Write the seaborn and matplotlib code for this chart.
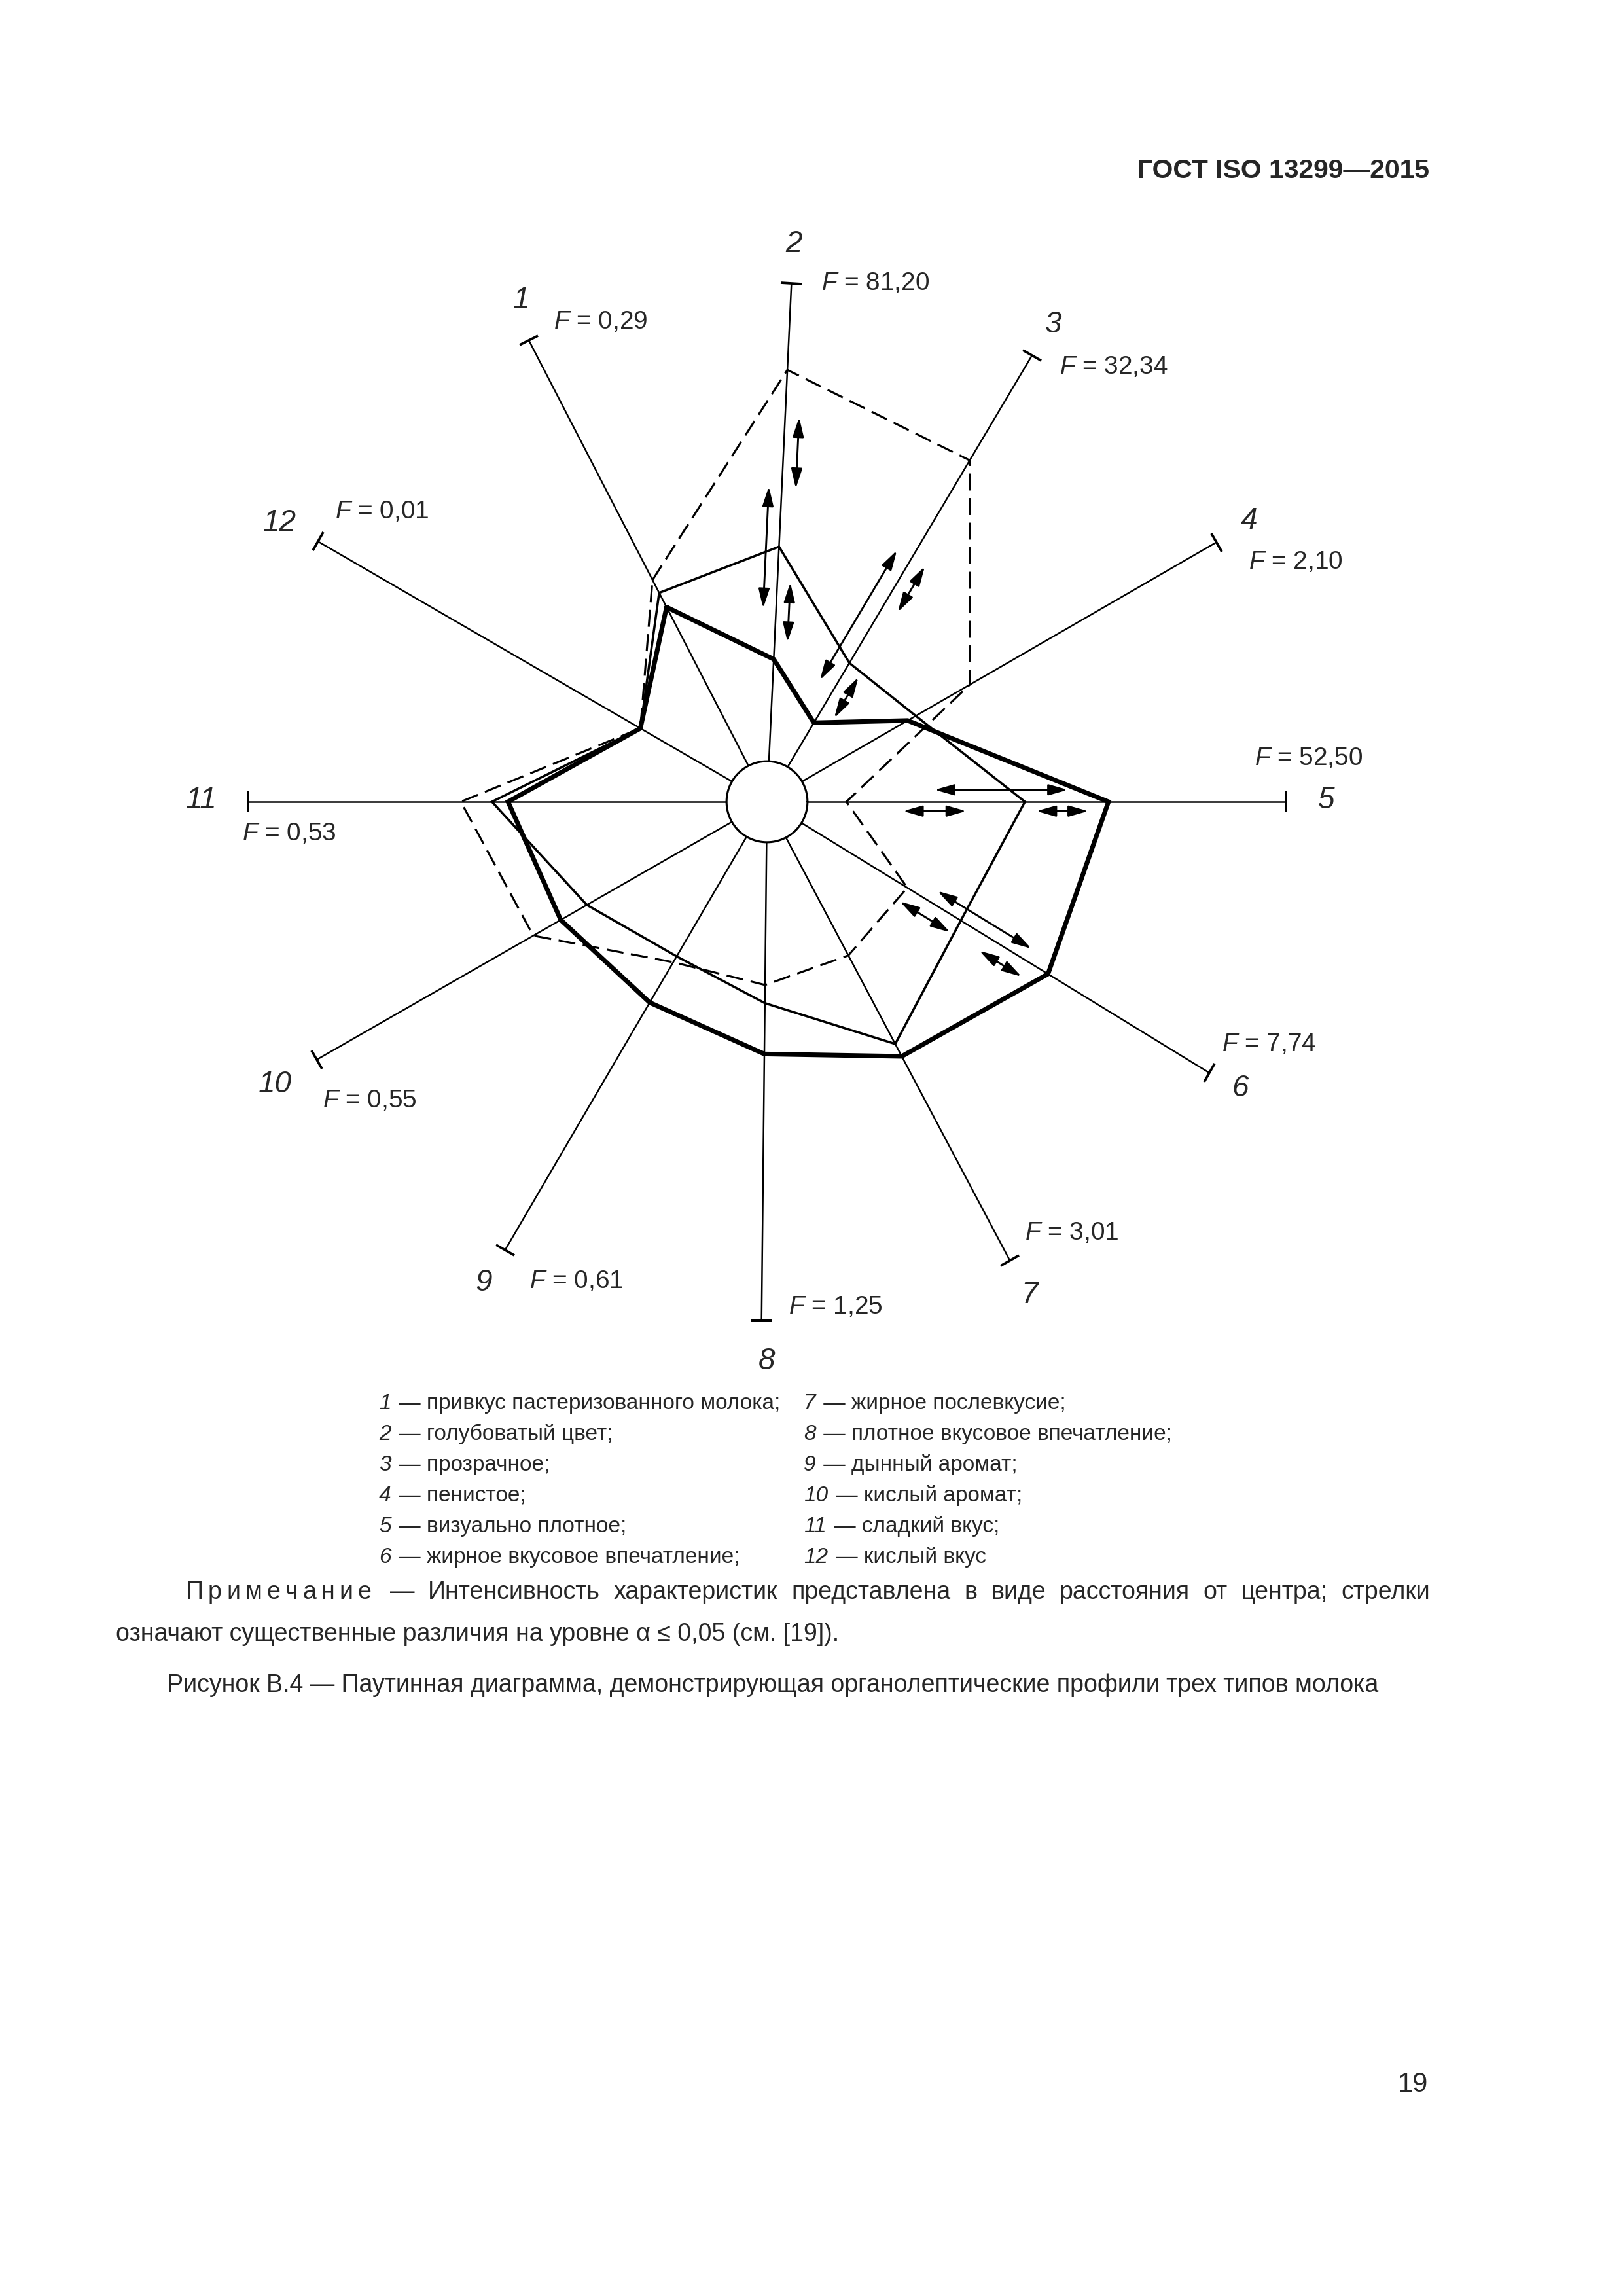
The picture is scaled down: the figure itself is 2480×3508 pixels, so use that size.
"""
Паутинная диаграмма (рисунок В.4, ГОСТ ISO 13299-2015):
органолептические профили трех типов молока по 12 характеристикам.
"""

import numpy as np
import pandas as pd
import matplotlib
matplotlib.use("Agg")
import matplotlib.pyplot as plt
import seaborn as sns
from matplotlib.markers import MarkerStyle
from matplotlib.transforms import Affine2D

W, H = 2480, 3508
DPI = 300

# --- данные (расстояние от центра, конец оси = 10) ---
axis_ids = list(range(1, 13))
f_values = ["0,29", "81,20", "32,34", "2,10", "52,50", "7,74",
            "3,01", "1,25", "0,61", "0,55", "0,53", "0,01"]
profile_dashed = [4.81, 8.33, 7.65, 4.51, 1.53, 3.17, 3.35, 3.53, 3.58, 5.19, 5.90, 2.82]
profile_thin = [4.53, 4.92, 3.11, 3.31, 4.97, 4.38, 5.28, 3.88, 3.45, 4.00, 5.30, 2.82]
profile_thick = [4.22, 2.75, 1.77, 3.13, 6.58, 6.35, 5.55, 4.86, 4.48, 4.58, 4.99, 2.82]

# существенные различия: ось, от, до, смещение в сторону от оси
arrow_axis = [2, 2, 2, 3, 3, 3, 5, 5, 5, 6, 6, 6]
arrow_from = [7.43, 6.07, 4.24, 5.44, 5.45, 2.96, 3.23, 2.62, 5.19, 3.70, 3.19, 4.99]
arrow_to = [6.06, 3.72, 3.09, 2.54, 4.43, 2.05, 5.80, 3.84, 6.19, 5.82, 4.32, 5.94]
arrow_side = [-0.27, 0.25, -0.25, 0.32, -0.30, -0.29, 0.23, -0.18, -0.18, 0.25, -0.30, -0.31]

legend_items = [
    "привкус пастеризованного молока;", "голубоватый цвет;", "прозрачное;",
    "пенистое;", "визуально плотное;", "жирное вкусовое впечатление;",
    "жирное послевкусие;", "плотное вкусовое впечатление;", "дынный аромат;",
    "кислый аромат;", "сладкий вкус;", "кислый вкус",
]

note_head = "Примечание"
note_line1 = "— Интенсивность характеристик представлена в виде расстояния от центра; стрелки"
note_line2 = "означают существенные различия на уровне α ≤ 0,05 (см. [19])."
caption = ("Рисунок В.4 — Паутинная диаграмма, демонстрирующая органолептические "
           "профили трех типов молока")

# --- раскладка ---
axis_angle_deg = [117.3, 87.3, 59.3, 30.0, 0.0, -31.5, -62.1, -90.6, -120.3, -150.2, 180.0, 149.9]
R_END = 10.0
HUB = 0.78
CENTER_PX = (1172, 1225)
PX_PER_UNIT = 79.3
R_LIM = 14.0

num_pos = [(797, 459), (1213, 373), (1610, 496), (1908, 796), (2027, 1223), (1895, 1663),
           (1573, 1979), (1172, 2080), (739, 1960), (420, 1657), (308, 1223), (427, 799)]
f_pos = [(846, 492), (1255, 433), (1619, 561), (1908, 859), (1917, 1159), (1867, 1596),
         (1566, 1884), (1205, 1997), (809, 1958), (493, 1682), (370, 1274), (512, 782)]

PROFILE_STYLES = {
    "dashed": dict(lw=0.75, ls=(0, (8.3, 3.7))),
    "thin": dict(lw=0.85, ls="-"),
    "thick": dict(lw=1.7, ls="-"),
}


def fig_xy(x, y):
    return x / W, 1 - y / H


def to_polar(p):
    return np.arctan2(p[1], p[0]), np.hypot(p[0], p[1])


def place_justified(fig, words, x_left, x_right, y_base, size):
    """Расставляет слова между x_left и x_right с равными промежутками."""
    renderer = fig.canvas.get_renderer()
    texts = [fig.text(0, 0, w, fontsize=size, ha="left", va="baseline") for w in words]
    widths = [t.get_window_extent(renderer).width for t in texts]
    gap = (x_right - x_left - sum(widths)) / (len(words) - 1)
    x = x_left
    for t, w in zip(texts, widths):
        t.set_position(fig_xy(x, y_base))
        x += w + gap


sns.set_theme(style="white")
plt.rcParams["font.family"] = ["Liberation Sans", "DejaVu Sans"]
plt.rcParams["mathtext.fontset"] = "custom"
plt.rcParams["mathtext.rm"] = "Liberation Sans"
plt.rcParams["mathtext.it"] = "Liberation Sans:italic"
plt.rcParams["mathtext.bf"] = "Liberation Sans:bold"

fig = plt.figure(figsize=(W / DPI, H / DPI), dpi=DPI)
fig.patch.set_facecolor("white")

rad_px = R_LIM * PX_PER_UNIT
ax = fig.add_axes([(CENTER_PX[0] - rad_px) / W, 1 - (CENTER_PX[1] + rad_px) / H,
                   2 * rad_px / W, 2 * rad_px / H], projection="polar")
ax.set_axis_off()

theta = np.deg2rad(axis_angle_deg)

# оси с засечками на концах
for ang, th in zip(axis_angle_deg, theta):
    ax.plot([th, th], [HUB, R_END], color="black", lw=0.6, solid_capstyle="butt")
    cap = MarkerStyle("|", transform=Affine2D().rotate_deg(ang))
    ax.plot([th], [R_END], marker=cap, ms=7.7, mew=0.9, color="black", ls="none")

# центральный круг
ring = np.linspace(0, 2 * np.pi, 361)
ax.plot(ring, np.full_like(ring, HUB), color="black", lw=0.75)

# профили
profiles = pd.DataFrame({
    "axis": axis_ids,
    "dashed": profile_dashed,
    "thin": profile_thin,
    "thick": profile_thick,
})
theta_closed = np.append(theta, theta[0])
for name, style in PROFILE_STYLES.items():
    vals = profiles[name].to_numpy()
    sns.lineplot(x=theta_closed, y=np.append(vals, vals[0]), ax=ax, sort=False,
                 estimator=None, errorbar=None, color="black", lw=style["lw"])
    line = ax.lines[-1]
    line.set_linestyle(style["ls"])
    line.set_solid_joinstyle("miter")
ax.set_xlabel("")
ax.set_ylabel("")

# стрелки существенных различий
for k, r1, r2, side in zip(arrow_axis, arrow_from, arrow_to, arrow_side):
    a = theta[k - 1]
    u = np.array([np.cos(a), np.sin(a)])
    v = np.array([-np.sin(a), np.cos(a)])
    ax.annotate("", xy=to_polar(r2 * u + side * v), xytext=to_polar(r1 * u + side * v),
                arrowprops=dict(arrowstyle="<|-|>,head_length=0.6,head_width=0.17",
                                color="black", lw=0.7, shrinkA=0, shrinkB=0,
                                mutation_scale=10))

ax.set_ylim(0, R_LIM)

# подписи осей и F-критерии
for i, fv in enumerate(f_values):
    fig.text(*fig_xy(*num_pos[i]), str(axis_ids[i]), fontsize=11, fontstyle="italic",
             ha="center", va="center")
    fig.text(*fig_xy(*f_pos[i]), f"$F$ = {fv}", fontsize=9.3, ha="left", va="center")

# колонтитул и номер страницы
fig.text(*fig_xy(2184, 261), "ГОСТ ISO 13299—2015", fontsize=9.8, fontweight="bold",
         ha="right", va="center")
fig.text(*fig_xy(2182, 3185), "19", fontsize=10, ha="right", va="center")

# экспликация: номер курсивом, текст сразу за ним
rows_base = [2153, 2200, 2247, 2294, 2341, 2388]
for i, item in enumerate(legend_items):
    col_x = 579 if i < 6 else 1228
    num = fig.text(*fig_xy(col_x, rows_base[i % 6]), str(axis_ids[i]), fontsize=8,
                   fontstyle="italic", ha="left", va="baseline")
    ax.annotate(f" — {item}", xy=(1, 0), xycoords=num, xytext=(0.6, 0),
                textcoords="offset points", fontsize=8, ha="left", va="bottom",
                annotation_clip=False)

# примечание (первая строка выровнена по ширине) и название рисунка
place_justified(fig, list(note_head), 284, 567, 2443, 9)
place_justified(fig, note_line1.split(), 596, 2185, 2443, 9)
fig.text(*fig_xy(177, 2507), note_line2, fontsize=9, ha="left", va="baseline")
fig.text(*fig_xy(1181, 2585), caption, fontsize=9, ha="center", va="baseline")

fig.savefig("out.png", dpi=DPI, facecolor="white")
